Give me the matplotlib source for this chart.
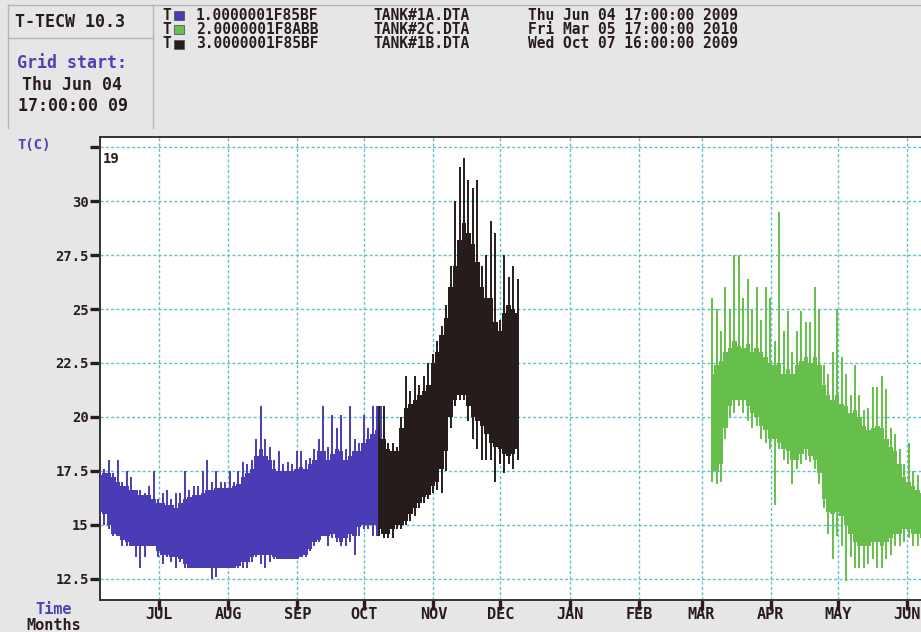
import pandas as pd
import matplotlib
matplotlib.use("Agg")
import matplotlib.pyplot as plt
from matplotlib.lines import Line2D
from matplotlib.patches import Rectangle

# Logger 1 (TANK#1A), 2-day samples: dense band (lo/hi) and extreme reach (peak_lo/peak_hi)
blue_hi = [17.3, 17.4, 17.4, 17.2, 17.0, 16.8, 16.8, 16.6, 16.6, 16.4, 16.4, 16.4, 16.2, 16.0, 16.0, 15.9,
           15.9, 15.8, 16.0, 16.2, 16.3, 16.4, 16.4, 16.5, 16.6, 16.6, 16.7, 16.7, 16.7, 16.7, 16.8, 16.9,
           17.2, 17.4, 17.6, 18.2, 18.5, 18.2, 18.0, 17.6, 17.5, 17.5, 17.5, 17.5, 17.6, 17.7, 17.6, 17.8,
           18.0, 18.4, 18.4, 18.0, 18.3, 18.5, 18.4, 18.0, 18.2, 18.4, 18.4, 18.8, 19.0, 19.2, 19.4, 19.5]
blue_lo = [15.6, 15.5, 15.0, 14.6, 14.5, 14.3, 14.2, 14.0, 14.0, 14.0, 14.0, 14.0, 14.0, 13.8, 13.6, 13.6,
           13.5, 13.5, 13.4, 13.2, 13.0, 13.0, 13.0, 13.0, 13.0, 13.0, 13.0, 13.0, 13.0, 13.0, 13.0, 13.1,
           13.3, 13.3, 13.5, 13.6, 13.6, 13.6, 13.6, 13.5, 13.4, 13.4, 13.4, 13.4, 13.4, 13.5, 13.6, 13.9,
           14.2, 14.3, 14.5, 14.5, 14.6, 14.4, 14.2, 14.4, 14.6, 14.5, 14.9, 15.0, 15.0, 15.0, 15.0, 15.0]
blue_peak_hi = [17.5, 17.6, 18.0, 17.4, 18.0, 17.0, 17.5, 17.2, 16.6, 16.6, 16.5, 16.8, 17.5, 16.2, 16.5, 16.6,
                16.2, 16.5, 16.5, 17.5, 16.6, 16.8, 16.8, 17.5, 18.0, 17.0, 17.5, 17.0, 17.0, 17.5, 17.0, 17.5,
                17.9, 17.8, 18.0, 19.0, 20.5, 19.0, 18.6, 18.0, 18.4, 17.8, 17.9, 17.8, 18.4, 18.4, 18.0, 18.1,
                18.5, 19.0, 20.5, 18.6, 20.1, 19.5, 20.1, 18.5, 20.5, 19.0, 18.8, 20.1, 19.5, 20.5, 20.5, 20.5]
blue_peak_lo = [15.4, 15.0, 14.8, 14.5, 14.5, 14.0, 14.0, 14.0, 13.5, 13.0, 13.5, 14.0, 14.0, 13.5, 13.2, 13.5,
                13.3, 13.0, 13.3, 13.0, 13.0, 13.0, 13.0, 13.0, 13.0, 12.5, 12.6, 13.0, 13.0, 13.0, 13.0, 13.0,
                13.0, 13.0, 13.3, 13.5, 13.2, 13.0, 13.3, 13.4, 13.4, 13.4, 13.4, 13.4, 13.4, 13.5, 13.5, 13.8,
                14.0, 14.2, 14.5, 14.0, 14.4, 14.2, 14.0, 14.0, 14.2, 13.6, 14.5, 14.8, 14.8, 14.5, 14.5, 14.8]

# Logger 3 (TANK#1B)
black_hi = [19.0, 19.0, 18.5, 18.4, 18.4, 19.5, 20.4, 20.6, 20.8, 21.0, 21.2, 21.5, 22.5, 23.0, 23.8, 24.6,
            26.0, 27.0, 28.2, 29.0, 28.5, 28.0, 27.2, 26.0, 25.5, 25.5, 24.4, 24.0, 24.8, 25.2, 25.0, 24.8]
black_lo = [14.8, 14.6, 14.6, 14.8, 15.0, 15.0, 15.2, 15.5, 15.8, 16.0, 16.3, 16.4, 16.8, 17.0, 17.6, 18.4,
            20.0, 20.8, 21.0, 21.0, 20.5, 20.0, 19.8, 19.6, 19.2, 18.8, 18.6, 18.5, 18.3, 18.2, 18.3, 18.5]
black_peak_hi = [20.5, 20.5, 18.8, 18.8, 18.6, 20.0, 21.9, 21.2, 21.9, 21.5, 21.9, 22.5, 22.9, 23.5, 24.2, 25.2,
                 27.0, 30.0, 31.6, 32.0, 31.0, 30.6, 31.0, 27.0, 27.5, 29.1, 28.5, 24.5, 27.5, 26.5, 27.0, 26.4]
black_peak_lo = [14.5, 14.4, 14.4, 14.4, 14.8, 14.8, 15.0, 15.2, 15.4, 15.8, 16.0, 16.2, 16.5, 16.6, 16.5, 17.5,
                 19.5, 20.5, 20.8, 20.8, 19.8, 19.0, 18.5, 18.0, 18.0, 18.0, 17.0, 17.8, 17.4, 17.8, 17.6, 18.0]

# Logger 2 (TANK#2C)
green_hi = [22.0, 22.4, 22.6, 23.0, 23.2, 23.5, 23.3, 23.2, 23.4, 23.0, 23.2, 23.0, 22.8, 22.5, 22.4, 22.5,
            22.0, 22.2, 22.0, 22.4, 22.6, 22.8, 22.5, 22.8, 22.4, 21.5, 21.0, 20.8, 21.0, 20.6, 20.5, 20.2,
            20.3, 20.0, 19.6, 19.4, 19.5, 19.6, 19.5, 19.0, 18.6, 18.4, 17.8, 17.2, 17.0, 16.8, 16.6, 16.5]
green_lo = [17.5, 17.5, 17.8, 19.5, 20.5, 20.8, 20.8, 20.8, 20.5, 20.2, 20.0, 19.6, 19.4, 19.0, 19.0, 18.8,
            18.5, 18.4, 18.0, 18.0, 18.3, 18.5, 18.2, 18.0, 17.4, 16.2, 15.6, 15.5, 15.6, 15.4, 15.0, 14.6,
            14.2, 14.0, 14.0, 14.0, 14.2, 14.2, 14.0, 14.2, 14.4, 14.6, 14.6, 14.8, 14.8, 14.6, 14.6, 14.4]
green_peak_hi = [25.5, 25.0, 24.0, 26.0, 25.0, 27.5, 27.5, 25.5, 26.4, 25.0, 26.0, 24.5, 26.0, 25.5, 23.5, 29.5,
                 24.0, 24.9, 23.0, 24.0, 24.9, 24.4, 24.4, 26.0, 25.0, 22.4, 22.0, 23.0, 25.0, 22.8, 22.0, 21.0,
                 22.4, 21.0, 20.3, 20.4, 21.4, 21.4, 21.9, 21.3, 19.5, 19.2, 18.5, 17.8, 18.8, 17.5, 17.3, 17.0]
green_peak_lo = [17.0, 16.9, 17.0, 19.0, 20.0, 20.2, 20.5, 20.2, 19.8, 19.5, 19.6, 19.0, 18.8, 18.5, 15.9, 18.5,
                 18.0, 17.8, 16.9, 17.6, 17.8, 18.0, 17.9, 17.6, 16.9, 15.8, 14.6, 13.4, 14.5, 14.0, 12.4, 13.5,
                 13.0, 13.0, 13.0, 13.2, 13.4, 13.0, 13.0, 13.4, 13.6, 14.0, 14.0, 14.2, 14.4, 14.0, 14.0, 13.2]

month_labels = ["JUL", "AUG", "SEP", "OCT", "NOV", "DEC", "JAN", "FEB", "MAR", "APR", "MAY", "JUN"]
y_ticks = [12.5, 15, 17.5, 20, 22.5, 25, 27.5, 30, 32.5]
y_labels = ["12.5", "15", "17.5", "20", "22.5", "25", "27.5", "30", ""]

legend_rows = [
    ("1.0000001F85BF", "TANK#1A.DTA", "Thu Jun 04 17:00:00 2009", "#4a3cb4"),
    ("2.0000001F8ABB", "TANK#2C.DTA", "Fri Mar 05 17:00:00 2010", "#66bf4a"),
    ("3.0000001F85BF", "TANK#1B.DTA", "Wed Oct 07 16:00:00 2009", "#261c1c"),
]

W, H = 921, 632
INK = "#2a1c1c"
BLUE_TXT = "#4d42b0"
GRID = "#5ec4c8"
MONO = "DejaVu Sans Mono"


def fx(x):
    return x / W


def fy(y):
    return 1 - y / H


fig = plt.figure(figsize=(W / 100, H / 100), dpi=100)
fig.patch.set_facecolor("#e6e6e6")

ax = fig.add_axes([fx(100), fy(600), 1 - fx(100), (600 - 137) / H])
ax.set_facecolor("white")


def draw_series(start, hi, lo, peak_hi, peak_lo, color):
    t = pd.date_range(start, periods=len(hi), freq="2D")
    ax.fill_between(t, lo, hi, step="mid", color=color, lw=0, zorder=3)
    ax.vlines(t, peak_lo, peak_hi, color=color, lw=1.4, zorder=3)


draw_series("2009-06-04 17:00", blue_hi, blue_lo, blue_peak_hi, blue_peak_lo, legend_rows[0][3])
draw_series("2009-10-07 16:00", black_hi, black_lo, black_peak_hi, black_peak_lo, legend_rows[2][3])
draw_series("2010-03-05 17:00", green_hi, green_lo, green_peak_hi, green_peak_lo, legend_rows[1][3])

ax.set_xlim(pd.Timestamp("2009-06-04 17:00"), pd.Timestamp("2010-06-07 06:00"))
ax.set_ylim(11.52, 32.97)

months = pd.date_range("2009-07-01", "2010-06-01", freq="MS")
ax.set_xticks(months)
ax.set_xticklabels(month_labels, fontfamily=MONO, fontweight="bold", fontsize=11, color=INK)
ax.set_yticks(y_ticks)
ax.set_yticklabels(y_labels, fontfamily=MONO, fontweight="bold", fontsize=10, color=INK)
ax.tick_params(axis="x", direction="out", length=7, width=2.4, color=INK, pad=-2)
ax.tick_params(axis="y", direction="out", length=7, width=2.4, color=INK, pad=1)

ax.grid(True, color=GRID, lw=1.0, linestyle=(0, (2.2, 1.6)), zorder=1)
for side in ["left", "bottom", "top"]:
    ax.spines[side].set_color("#333333")
    ax.spines[side].set_linewidth(1.4)
ax.spines["right"].set_visible(False)

ax.text(fx(103), fy(159), "19", transform=fig.transFigure, fontfamily=MONO, fontweight="bold",
        fontsize=10, color=INK, va="center", ha="left")

# axis captions
fig.text(fx(17), fy(145), "T(C)", fontfamily=MONO, fontweight="bold", fontsize=10, color=BLUE_TXT, va="center")
fig.text(fx(54), fy(610), "Time", fontfamily=MONO, fontweight="bold", fontsize=11, color=BLUE_TXT,
         va="center", ha="center")
fig.text(fx(54), fy(625), "Months", fontfamily=MONO, fontweight="bold", fontsize=11, color=INK,
         va="center", ha="center")

# header panel frame
frame = "#b4b4b4"
for (x0, y0, x1, y1) in [(8, 5, W, 5), (153, 5, 153, 128), (8, 38, 153, 38), (8, 5, 8, 128)]:
    fig.add_artist(Line2D([fx(x0), fx(x1)], [fy(y0), fy(y1)], color=frame, lw=1.0))

fig.text(fx(15), fy(22), "T-TECW 10.3", fontfamily=MONO, fontweight="bold", fontsize=12, color=INK, va="center")
fig.text(fx(17), fy(63), "Grid start:", fontfamily=MONO, fontweight="bold", fontsize=12, color=BLUE_TXT,
         va="center")
fig.text(fx(22), fy(85), "Thu Jun 04", fontfamily=MONO, fontweight="bold", fontsize=12, color=INK, va="center")
fig.text(fx(18), fy(106), "17:00:00 09", fontfamily=MONO, fontweight="bold", fontsize=12, color=INK, va="center")

# logger list: one row per file
hdr = dict(fontfamily=MONO, fontweight="bold", fontsize=10.5, color=INK, va="center")
for i, (logger, fname, started, color) in enumerate(legend_rows):
    y = 15 + 14.5 * i
    fig.text(fx(162), fy(y), "T", **hdr)
    fig.add_artist(Rectangle((fx(174), fy(y + 4.5)), 10 / W, 9 / H, facecolor=color,
                             edgecolor="#555555", lw=0.6, transform=fig.transFigure))
    fig.text(fx(196), fy(y), logger, **hdr)
    fig.text(fx(373), fy(y), fname, **hdr)
    fig.text(fx(528), fy(y), started, **hdr)

fig.savefig("out.png", dpi=100, facecolor=fig.get_facecolor())
